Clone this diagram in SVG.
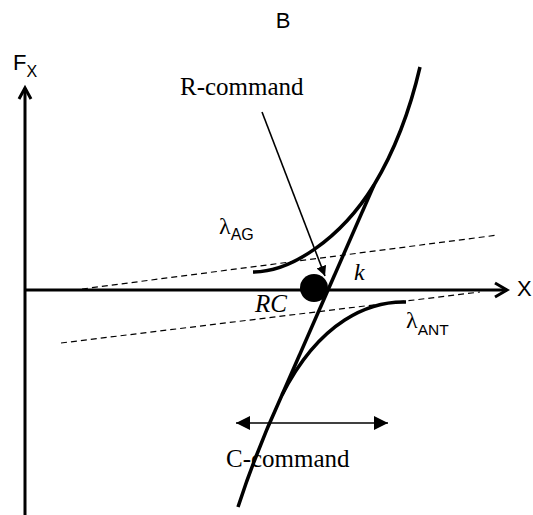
<svg xmlns="http://www.w3.org/2000/svg" width="533" height="515" viewBox="0 0 533 515">
<defs>
<marker id="tri" viewBox="0 0 10 10" refX="10" refY="5" markerWidth="10" markerHeight="10" markerUnits="userSpaceOnUse" orient="auto-start-reverse"><path d="M0,0 L10,5 L0,10 z" fill="#000"/></marker>
<marker id="tri2" viewBox="0 0 10 10" refX="10" refY="5" markerWidth="14" markerHeight="14" markerUnits="userSpaceOnUse" orient="auto-start-reverse"><path d="M0,0 L10,5 L0,10 z" fill="#000"/></marker>
</defs>
<style>
.sans{font-family:"Liberation Sans",Arial,sans-serif;fill:#000}
.serif{font-family:"Liberation Serif","Times New Roman",serif;fill:#000}
.axis{stroke:#000;stroke-width:3;fill:none}
.curve{stroke:#000;stroke-width:3.5;fill:none;stroke-linecap:butt}
.dash{stroke:#000;stroke-width:1.2;fill:none;stroke-dasharray:6,4}
.thin{stroke:#000;stroke-width:1.6;fill:none}
</style>
<rect width="533" height="515" fill="#fff"/>
<text class="sans" x="283" y="28" font-size="22" text-anchor="middle">B</text>
<g id="axes">
<path class="axis" d="M25,515 V88"/>
<path class="axis" d="M19,99 L25,88 L31,99" stroke-width="2.6"/>
<path class="axis" d="M25,290 H507"/>
<path class="axis" d="M495,283 L507,290 L495,297" stroke-width="2.6"/>
<text class="sans" x="13" y="70" font-size="22">F<tspan font-size="16" dy="7">X</tspan></text>
<text class="sans" x="517" y="296" font-size="22">X</text>
</g>
<g id="dashed">
<path class="dash" d="M82,289 L498,235"/>
<path class="dash" d="M61,343 L480,292"/>
</g>
<g id="lambdaAG">
<path class="curve" d="M253,272 C290,272 340,240 374,185 C395,150 410,110 420,67"/>
<text class="serif" x="219" y="234" font-size="24">λ<tspan class="sans" font-size="16" dy="6">AG</tspan></text>
</g>
<g id="lambdaANT">
<path class="curve" d="M406,302 C370,301 320,320 282,395 C265,432 250,470 238,507"/>
<text class="serif" x="406" y="328" font-size="24">λ<tspan class="sans" font-size="15.5" dy="7">ANT</tspan></text>
</g>
<g id="k-line">
<path class="curve" d="M374,185 L282,395" stroke-width="3"/>
<text class="serif" x="354" y="280" font-size="24" font-style="italic">k</text>
</g>
<g id="RC">
<circle cx="314" cy="288" r="14" fill="#000"/>
<text class="serif" x="255" y="312" font-size="25" font-style="italic">RC</text>
</g>
<g id="connectors">
<path class="thin" d="M262,112 L325,276" marker-end="url(#tri)"/>
<path class="thin" d="M236,423 H388" marker-start="url(#tri2)" marker-end="url(#tri2)" stroke-width="2"/>
</g>
<g id="R-command">
<text class="serif" x="180" y="95" font-size="25">R-command</text>
</g>
<g id="C-command">
<text class="serif" x="226" y="467" font-size="25">C-command</text>
</g>
</svg>
